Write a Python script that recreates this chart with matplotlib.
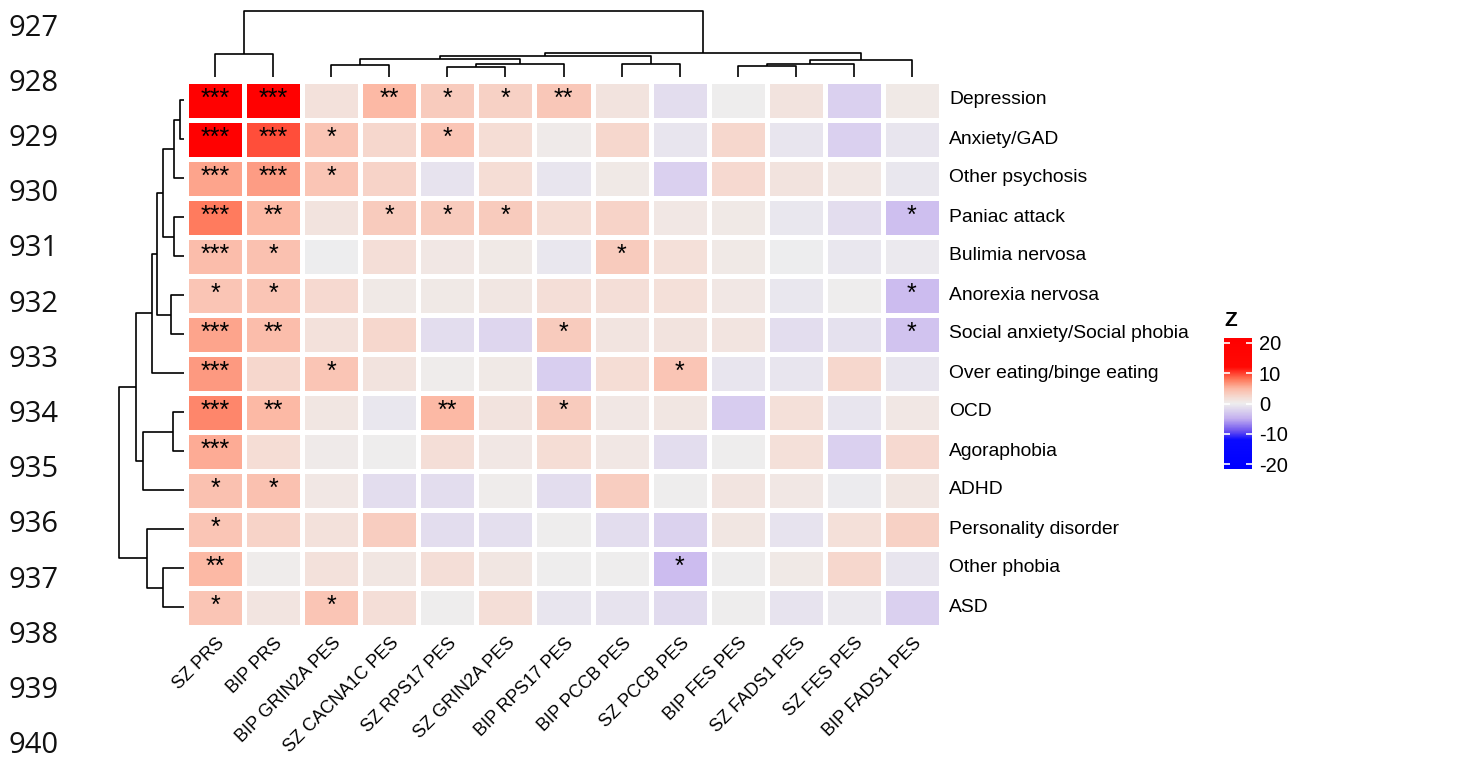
import numpy as np
import matplotlib
matplotlib.use("Agg")
import matplotlib.pyplot as plt
from matplotlib.colors import LinearSegmentedColormap, Normalize

# phenotypes (rows) and scores (columns), in clustered order
rows = ["Depression", "Anxiety/GAD", "Other psychosis", "Paniac attack",
        "Bulimia nervosa", "Anorexia nervosa", "Social anxiety/Social phobia",
        "Over eating/binge eating", "OCD", "Agoraphobia", "ADHD",
        "Personality disorder", "Other phobia", "ASD"]
cols = ["SZ PRS", "BIP PRS", "BIP GRIN2A PES", "SZ CACNA1C PES", "SZ RPS17 PES",
        "SZ GRIN2A PES", "BIP RPS17 PES", "BIP PCCB PES", "SZ PCCB PES",
        "BIP FES PES", "SZ FADS1 PES", "SZ FES PES", "BIP FADS1 PES"]

# Z scores
z = np.array([
    [20.0, 20.0, 1.5, 5.0, 3.5, 3.0, 3.8, 1.2, -1.5, 0.0, 1.3, -2.5, 0.6],
    [20.0, 9.5, 4.0, 2.5, 4.0, 2.0, 0.4, 2.5, -0.8, 2.5, -0.8, -2.5, -0.8],
    [6.0, 6.3, 4.0, 2.8, -1.0, 2.0, -0.7, 0.6, -2.5, 2.2, 1.2, 0.8, -0.6],
    [7.8, 5.0, 1.2, 3.5, 3.5, 3.5, 2.0, 2.8, 0.8, 0.6, -0.6, -1.5, -3.8],
    [4.6, 4.2, -0.1, 1.7, 0.8, 0.6, -0.6, 3.5, 1.6, 0.6, -0.1, -0.6, -0.4],
    [4.0, 4.0, 2.3, 0.6, 0.6, 1.0, 1.7, 1.7, 1.6, 0.8, -0.6, 0.0, -4.0],
    [6.0, 4.6, 1.5, 2.4, -1.5, -2.0, 3.5, 1.1, 1.2, 1.1, -1.4, -1.1, -3.5],
    [6.5, 2.4, 4.0, 1.3, 0.3, 0.6, -2.6, 2.0, 4.0, -0.8, -0.8, 2.5, -0.8],
    [7.3, 5.0, 1.0, -0.6, 5.0, 1.3, 3.5, 0.7, 1.0, -2.8, 1.6, -0.8, 0.8],
    [5.7, 2.0, 0.4, 0.0, 1.7, 0.8, 2.0, 0.7, -1.5, 0.0, 1.6, -2.5, 2.2],
    [4.2, 4.2, 0.7, -1.5, -1.5, 0.2, -1.4, 3.2, 0.0, 1.1, 0.8, -0.2, 1.0],
    [4.0, 2.8, 1.4, 3.2, -1.5, -1.2, 0.0, -1.5, -2.2, 1.0, -0.9, 1.6, 3.0],
    [5.0, 0.3, 1.4, 1.0, 1.8, 1.0, 0.0, 0.0, -4.0, 0.1, 0.6, 2.5, -0.7],
    [4.0, 1.1, 4.0, 1.7, 0.0, 1.8, -0.8, -1.0, -1.6, 0.0, -0.9, -0.4, -2.5],
])

# significance marks
stars = [
    ["***", "***", "", "**", "*", "*", "**", "", "", "", "", "", ""],
    ["***", "***", "*", "", "*", "", "", "", "", "", "", "", ""],
    ["***", "***", "*", "", "", "", "", "", "", "", "", "", ""],
    ["***", "**", "", "*", "*", "*", "", "", "", "", "", "", "*"],
    ["***", "*", "", "", "", "", "", "*", "", "", "", "", ""],
    ["*", "*", "", "", "", "", "", "", "", "", "", "", "*"],
    ["***", "**", "", "", "", "", "*", "", "", "", "", "", "*"],
    ["***", "", "*", "", "", "", "", "", "*", "", "", "", ""],
    ["***", "**", "", "", "**", "", "*", "", "", "", "", "", ""],
    ["***", "", "", "", "", "", "", "", "", "", "", "", ""],
    ["*", "*", "", "", "", "", "", "", "", "", "", "", ""],
    ["*", "", "", "", "", "", "", "", "", "", "", "", ""],
    ["**", "", "", "", "", "", "", "", "*", "", "", "", ""],
    ["*", "", "*", "", "", "", "", "", "", "", "", "", ""],
]

# hierarchical clustering merges: (node a, node b, height); new nodes numbered n, n+1, ...
col_links = [(4, 5, 30), (9, 10, 33), (2, 3, 37), (13, 6, 40), (7, 8, 40),
             (14, 11, 40), (18, 12, 50), (15, 16, 53), (20, 17, 62),
             (0, 1, 70), (21, 19, 72), (22, 23, 197)]
row_links = [(0, 1, 12), (14, 2, 30), (3, 4, 30), (8, 9, 32), (5, 6, 39),
             (15, 16, 64), (12, 13, 64), (19, 18, 82), (21, 7, 97),
             (11, 20, 112), (17, 10, 124), (22, 24, 146), (25, 23, 196)]

cbar_ticks = [-20, -10, 0, 10, 20]
line_numbers = list(range(927, 941))

zmin, zmax = -21.5, 21.5
nodes = [(-21.5, (0, 0, 255)), (-12, (10, 10, 255)), (-9, (110, 85, 240)),
         (-5, (195, 175, 240)), (-1.5, (226, 220, 238)), (0, (238, 238, 238)),
         (2, (245, 220, 212)), (5, (252, 185, 165)), (8, (255, 120, 90)),
         (12, (255, 10, 5)), (21.5, (255, 0, 0))]
cmap = LinearSegmentedColormap.from_list(
    "zmap", [((v - zmin) / (zmax - zmin), tuple(c / 255 for c in rgb)) for v, rgb in nodes])
norm = Normalize(zmin, zmax)

W, H = 1471, 764
fig = plt.figure(figsize=(W / 100, H / 100), dpi=100)
plt.rcParams['font.family'] = ['Liberation Sans', 'DejaVu Sans']


def box(x0, y0, x1, y1):
    return [x0 / W, 1 - y1 / H, (x1 - x0) / W, (y1 - y0) / H]


nr, nc = z.shape
ax = fig.add_axes(box(186, 80.5, 941, 626.5))
ax.pcolormesh(np.arange(nc + 1), np.arange(nr + 1), z, cmap=cmap, norm=norm,
              edgecolors="white", linewidth=2.3)
ax.set_xlim(0, nc)
ax.set_ylim(nr, 0)
ax.axis("off")
for i in range(nr):
    for j in range(nc):
        if stars[i][j]:
            ax.text(j + 0.5, i + 0.47, stars[i][j], ha="center", va="center",
                    fontsize=18, color="black")
    ax.text(nc + 0.14, i + 0.5, rows[i], ha="left", va="center", fontsize=13.9,
            color="black")
for j in range(nc):
    ax.annotate(cols[j], xy=(j + 0.5, nr), xytext=(1, -8), textcoords="offset pixels",
                rotation=45, ha="right", va="top", rotation_mode="anchor",
                fontsize=13, color="black", annotation_clip=False)


def dendro(axd, links, n, horizontal):
    pos = {i: i + 0.5 for i in range(n)}
    hgt = {i: 0.0 for i in range(n)}
    for k, (a, b, h) in enumerate(links):
        xs = [pos[a], pos[a], pos[b], pos[b]]
        ys = [hgt[a], h, h, hgt[b]]
        if horizontal:
            axd.plot(ys, xs, color="black", lw=1.2, solid_capstyle="butt", clip_on=False)
        else:
            axd.plot(xs, ys, color="black", lw=1.2, solid_capstyle="butt", clip_on=False)
        pos[n + k] = (pos[a] + pos[b]) / 2
        hgt[n + k] = h


axt = fig.add_axes(box(186, 11, 941, 77))
dendro(axt, col_links, nc, False)
axt.set_xlim(0, nc)
axt.set_ylim(0, max(h for _, _, h in col_links))
axt.axis("off")

axl = fig.add_axes(box(119, 80.5, 184, 626.5))
dendro(axl, row_links, nr, True)
axl.set_xlim(max(h for _, _, h in row_links), 0)
axl.set_ylim(nr, 0)
axl.axis("off")

# legend bar
axc = fig.add_axes(box(1224, 338, 1252, 469))
grad = np.linspace(zmin, zmax, 300).reshape(-1, 1)
axc.imshow(grad, cmap=cmap, norm=norm, aspect="auto", origin="lower",
           extent=[0, 1, zmin, zmax])
axc.hlines(cbar_ticks, 0, 0.2, color="white", lw=1.2)
axc.hlines(cbar_ticks, 0.8, 1, color="white", lw=1.2)
axc.set_xticks([])
axc.set_yticks(cbar_ticks)
axc.set_yticklabels([str(t) for t in cbar_ticks], fontsize=14.5)
axc.yaxis.tick_right()
axc.tick_params(axis="y", length=0, pad=5)
for s in axc.spines.values():
    s.set_visible(False)
axc.set_ylim(zmin, zmax)
axc.text(0.0, zmax + 2.5, "Z", fontsize=15, fontweight="bold", ha="left", va="bottom")

# page line numbers
for k, num in enumerate(line_numbers):
    fig.text(9 / W, 1 - (28 + k * 55.2) / H, str(num), ha="left", va="center",
             fontsize=21, family=["Open Sans", "DejaVu Sans"], color="#111111")

fig.savefig("out.png", dpi=100)
